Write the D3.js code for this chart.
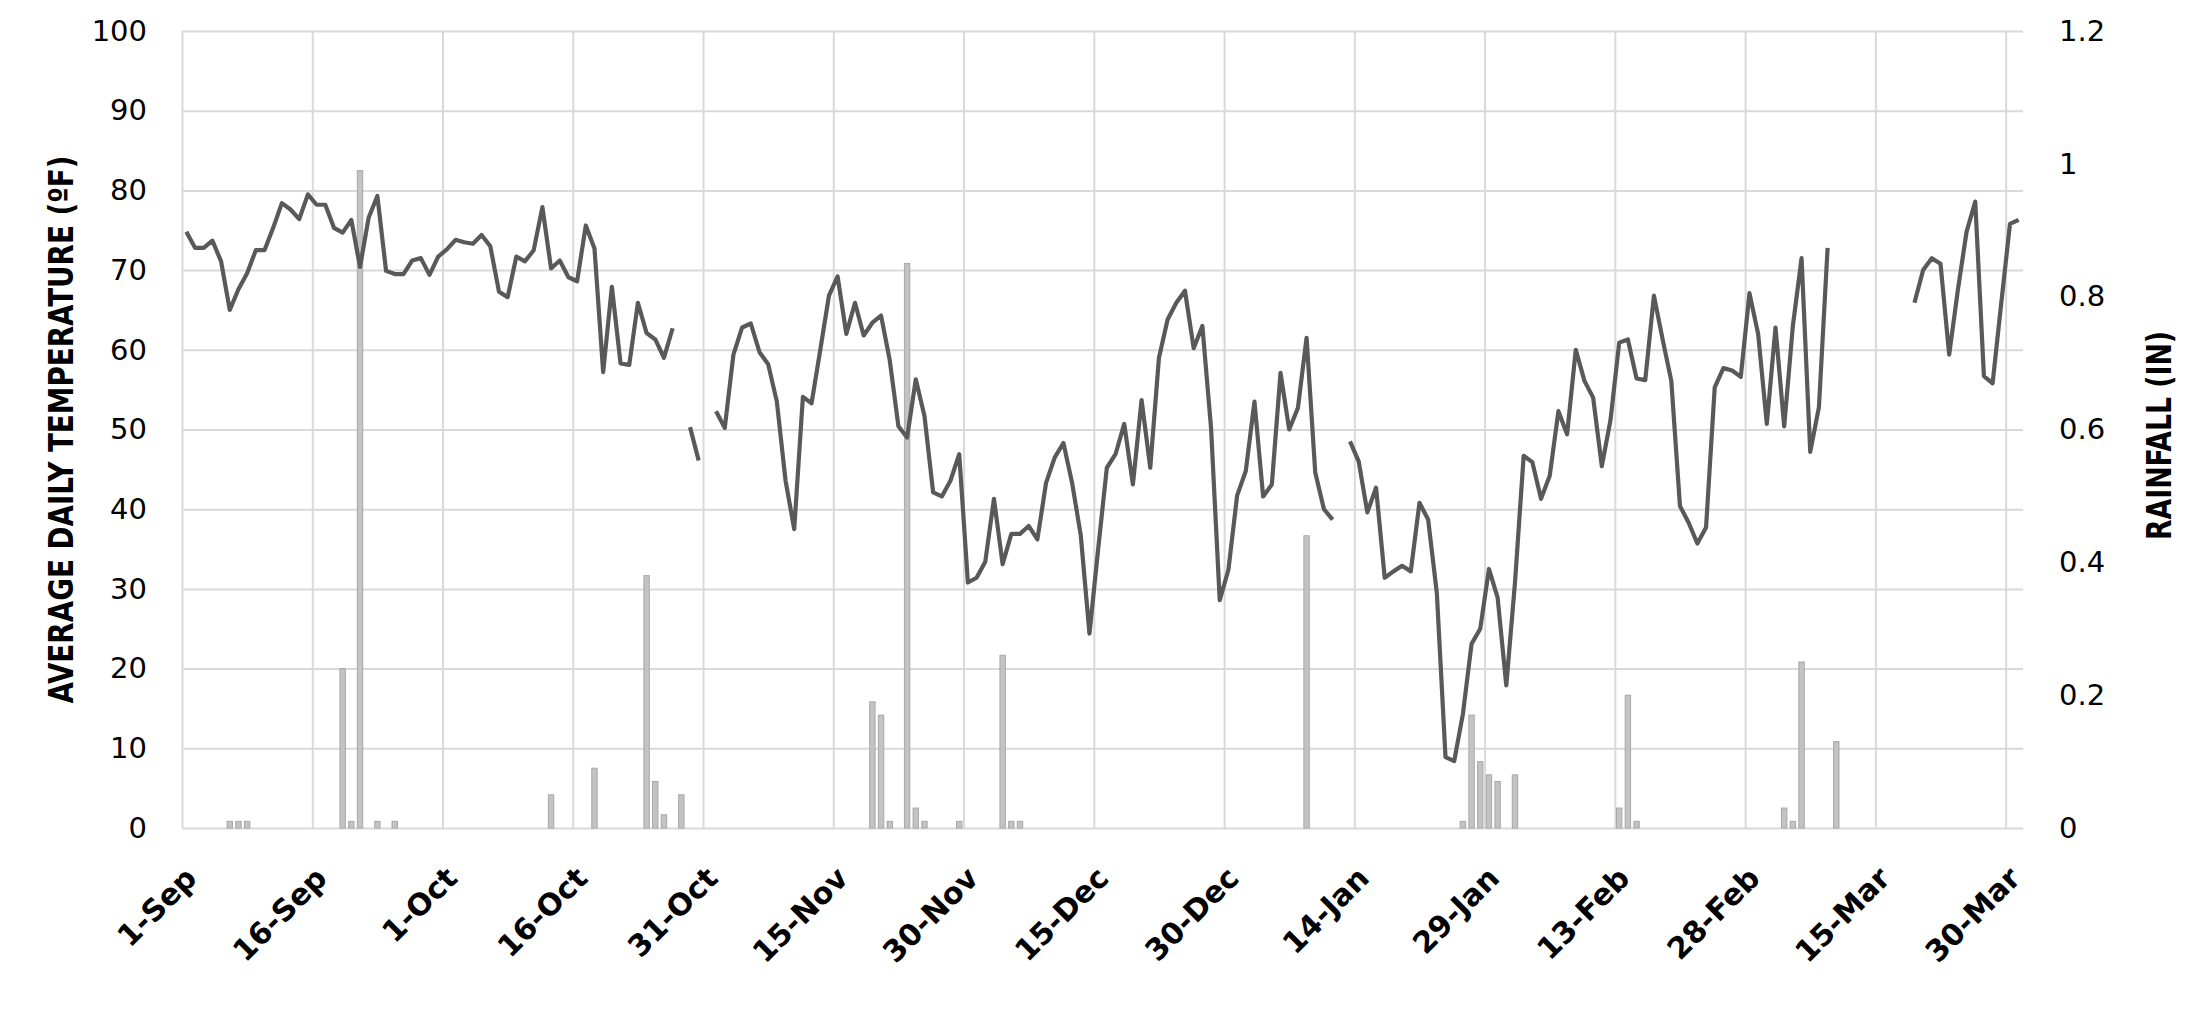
<!DOCTYPE html>
<html lang="en">
<head>
  <meta charset="UTF-8">
  <title>Average daily temperature and rainfall</title>
  <script src="https://d3js.org/d3.v7.min.js"></script>
  <style>
    body { margin: 0; padding: 0; background: #fff; }
    svg { display: block; }
    .grid line { stroke: #d9d9d9; stroke-width: 2px; }
    .grid .domain { display: none; }
    .ticks .domain { display: none; }
    .ticks text { fill: #000; font-family: "DejaVu Sans", Verdana, sans-serif; }
    .title { font-family: "Liberation Sans Narrow", "DejaVu Sans Condensed", "Arial Narrow", sans-serif; font-weight: bold; fill: #000; }
  </style>
</head>
<body>
  <div id="chart"></div>

  <script>
    const width = 2201;
    const height = 1009;

    // x axis: day index counted from 1-Sep (212 days to 31-Mar)
    const dayCount = 212;
    const tickDays = [0, 15, 30, 45, 60, 75, 90, 105, 120, 135, 150, 165, 180, 195, 210];
    const tickLabels = ["1-Sep", "16-Sep", "1-Oct", "16-Oct", "31-Oct", "15-Nov", "30-Nov", "15-Dec",
                        "30-Dec", "14-Jan", "29-Jan", "13-Feb", "28-Feb", "15-Mar", "30-Mar"];

    // average daily temperature (ºF), one value per day, null = no reading
    const tempF = [
      74.8, 72.8, 72.8, 73.7, 71.1, 65.0, 67.6, 69.6, 72.5, 72.5,
      75.3, 78.4, 77.6, 76.4, 79.5, 78.2, 78.2, 75.3, 74.7, 76.3,
      70.4, 76.6, 79.3, 69.9, 69.5, 69.5, 71.2, 71.5, 69.4, 71.7,
      72.6, 73.8, 73.5, 73.3, 74.4, 73.0, 67.3, 66.6, 71.7, 71.1,
      72.5, 77.9, 70.2, 71.2, 69.1, 68.6, 75.6, 72.7, 57.2, 67.9,
      58.3, 58.1, 65.9, 62.1, 61.3, 59.0, 62.7, null, 50.3, 46.1,
      null, 52.3, 50.2, 59.4, 62.8, 63.3, 59.7, 58.2, 53.5, 43.6,
      37.5, 54.1, 53.3, 60.0, 66.8, 69.2, 62.0, 65.9, 61.8, 63.4,
      64.3, 58.7, 50.4, 49.0, 56.3, 51.7, 42.1, 41.6, 43.6, 46.9,
      30.8, 31.4, 33.4, 41.3, 33.1, 36.9, 36.9, 37.9, 36.2, 43.3,
      46.5, 48.3, 43.3, 36.7, 24.4, 35.0, 45.2, 46.9, 50.7, 43.1,
      53.7, 45.2, 59.0, 63.8, 65.9, 67.4, 60.2, 63.0, 50.2, 28.6,
      32.4, 41.7, 44.8, 53.5, 41.6, 43.1, 57.1, 50.0, 52.7, 61.5,
      44.6, 40.0, 38.7, null, 48.5, 46.0, 39.6, 42.7, 31.4, 32.2,
      32.9, 32.2, 40.8, 38.7, 29.5, 8.9, 8.4, 14.3, 23.1, 25.0,
      32.5, 28.9, 17.9, 30.8, 46.7, 45.9, 41.3, 44.2, 52.3, 49.4,
      60.0, 56.1, 54.0, 45.4, 51.2, 60.9, 61.3, 56.4, 56.2, 66.8,
      61.3, 56.1, 40.4, 38.3, 35.7, 37.7, 55.3, 57.7, 57.4, 56.6,
      67.1, 62.0, 50.7, 62.8, 50.4, 63.0, 71.5, 47.2, 52.8, 72.8,
      null, null, null, null, null, null, null, null, null, 65.9,
      70.0, 71.5, 70.8, 59.4, 67.5, 74.8, 78.6, 56.7, 55.8, 65.9,
      75.8, 76.3
    ];

    // rainfall (in), only the days with rain
    const rainDays = [5, 6, 7, 18, 19, 20, 22, 24, 42, 47, 53, 54, 55, 57, 79, 80, 81, 83, 84, 85,
                      89, 94, 95, 96, 129, 147, 148, 149, 150, 151, 153, 165, 166, 167, 184, 185, 186, 190];
    const rainIn = [0.01, 0.01, 0.01, 0.24, 0.01, 0.99, 0.01, 0.01, 0.05, 0.09, 0.38, 0.07, 0.02, 0.05,
                    0.19, 0.17, 0.01, 0.85, 0.03, 0.01, 0.01, 0.26, 0.01, 0.01, 0.44, 0.01, 0.17, 0.10,
                    0.08, 0.07, 0.08, 0.03, 0.20, 0.01, 0.03, 0.01, 0.25, 0.13];

    const tempTicks = d3.range(0, 101, 10);
    const rainTicks = [0, 0.2, 0.4, 0.6, 0.8, 1, 1.2];

    const plotLeft = 182, plotRight = 2023, plotTop = 31, plotBottom = 828;

    const svg = d3.select("#chart")
      .append("svg")
      .attr("width", width)
      .attr("height", height);

    const x = d3.scaleLinear().domain([0, dayCount]).range([plotLeft, plotRight]);
    const yT = d3.scaleLinear().domain([0, 100]).range([plotBottom, plotTop]);
    const yR = d3.scaleLinear().domain([0, 1.2]).range([plotBottom, plotTop]);

    // gridlines
    svg.append("g")
      .attr("class", "grid")
      .attr("transform", `translate(${plotLeft},0)`)
      .call(d3.axisLeft(yT).tickValues(tempTicks).tickSize(-(plotRight - plotLeft)).tickFormat(""));

    svg.append("g")
      .attr("class", "grid")
      .attr("transform", `translate(0,${plotBottom})`)
      .call(d3.axisBottom(x).tickValues(tickDays).tickSize(0).tickFormat(""))
      .selectAll("line")
      .attr("y2", -(plotBottom - plotTop));

    // rainfall bars
    const barW = 5.4;
    svg.append("g")
      .selectAll("rect")
      .data(rainDays)
      .join("rect")
      .attr("x", d => x(d + 0.5) - barW / 2)
      .attr("width", barW)
      .attr("y", (d, i) => yR(rainIn[i]))
      .attr("height", (d, i) => plotBottom - yR(rainIn[i]))
      .attr("fill", "#c3c3c3")
      .attr("stroke", "#a8a8a8")
      .attr("stroke-width", 1);

    // temperature line
    const line = d3.line()
      .defined(d => d != null)
      .x((d, i) => x(i + 0.5))
      .y(d => yT(d));

    svg.append("path")
      .datum(tempF)
      .attr("d", line)
      .attr("fill", "none")
      .attr("stroke", "#595959")
      .attr("stroke-width", 4.2)
      .attr("stroke-linejoin", "round");

    // axes labels
    svg.append("g")
      .attr("class", "ticks")
      .attr("transform", `translate(${plotLeft - 35},0)`)
      .call(d3.axisLeft(yT).tickValues(tempTicks).tickSize(0).tickPadding(0))
      .call(g => g.selectAll("text").style("font-size", "29px"));

    svg.append("g")
      .attr("class", "ticks")
      .attr("transform", `translate(${plotRight + 36},0)`)
      .call(d3.axisRight(yR).tickValues(rainTicks).tickSize(0).tickPadding(0).tickFormat(d3.format("~g")))
      .call(g => g.selectAll("text").style("font-size", "29px"));

    svg.append("g")
      .attr("class", "ticks")
      .attr("transform", `translate(0,${plotBottom})`)
      .call(d3.axisBottom(x).tickValues(tickDays).tickSize(0).tickFormat((d, i) => tickLabels[i]))
      .call(g => g.selectAll("text")
        .attr("x", 0).attr("y", 0).attr("dy", null)
        .attr("transform", "translate(16,52) rotate(-45)")
        .style("text-anchor", "end")
        .style("font-size", "30px")
        .style("font-weight", "bold"));

    // axis titles
    svg.append("text")
      .attr("class", "title")
      .attr("transform", `translate(73,${(plotTop + plotBottom) / 2}) rotate(-90)`)
      .attr("text-anchor", "middle")
      .attr("font-size", 34)
      .attr("textLength", 548)
      .attr("lengthAdjust", "spacingAndGlyphs")
      .text("AVERAGE DAILY TEMPERATURE (ºF)");

    svg.append("text")
      .attr("class", "title")
      .attr("transform", `translate(2171,${(plotTop + plotBottom) / 2 + 6}) rotate(-90)`)
      .attr("text-anchor", "middle")
      .attr("font-size", 34)
      .attr("textLength", 209)
      .attr("lengthAdjust", "spacingAndGlyphs")
      .text("RAINFALL (IN)");
  </script>
</body>
</html>
